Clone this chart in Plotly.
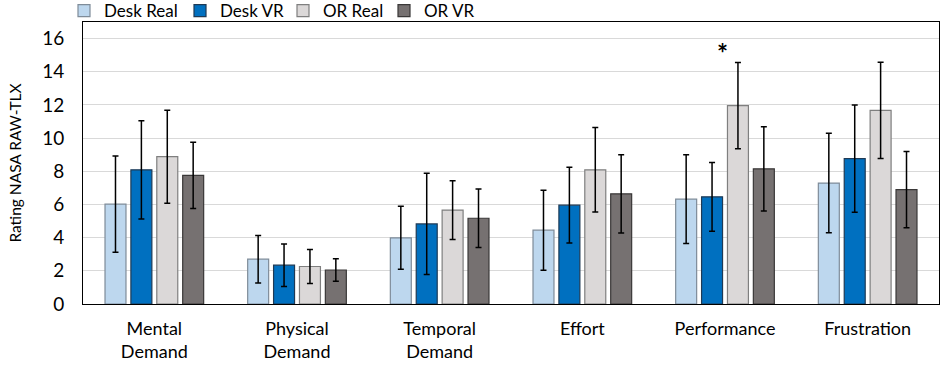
import plotly.graph_objects as go

categories = ["Mental<br>Demand", "Physical<br>Demand", "Temporal<br>Demand", "Effort", "Performance", "Frustration"]
series_names = ["Desk Real", "Desk VR", "OR Real", "OR VR"]

desk_real = [6.02, 2.70, 3.99, 4.45, 6.32, 7.29]
desk_vr = [8.09, 2.34, 4.83, 5.96, 6.46, 8.76]
or_real = [8.88, 2.26, 5.66, 8.09, 11.96, 11.67]
or_vr = [7.75, 2.05, 5.17, 6.64, 8.15, 6.90]

desk_real_sd = [2.90, 1.43, 1.90, 2.41, 2.68, 3.00]
desk_vr_sd = [2.96, 1.28, 3.05, 2.29, 2.07, 3.23]
or_real_sd = [2.80, 1.03, 1.77, 2.55, 2.60, 2.90]
or_vr_sd = [2.00, 0.68, 1.76, 2.36, 2.54, 2.30]

y_ticks = [0, 2, 4, 6, 8, 10, 12, 14, 16]

values = [desk_real, desk_vr, or_real, or_vr]
sds = [desk_real_sd, desk_vr_sd, or_real_sd, or_vr_sd]
fills = ["#BDD7EE", "#0070C0", "#DBD8D8", "#767171"]
edges = ["#7F8C99", "#1F3A55", "#7F7F7F", "#3A3838"]

FONT = "Lato, Open Sans, sans-serif"
W, H = 941, 365
legend_ids = ["legend", "legend2", "legend3", "legend4"]
legend_left_px = [64, 180, 283, 384]

fig = go.Figure()
for name, v, sd, fc, ec, lg in zip(series_names, values, sds, fills, edges, legend_ids):
    fig.add_trace(go.Bar(
        name=name, x=categories, y=v, legend=lg, showlegend=True,
        marker=dict(color=fc, line=dict(color=ec, width=1.2)),
        error_y=dict(type="data", array=sd, visible=True, color="black", thickness=1.5, width=3),
    ))

fig.add_annotation(x="Performance", y=15.15, text="<b>*</b>", showarrow=False,
                   xshift=-3, font=dict(size=26, color="black", family=FONT))

legend_layout = {}
for lg, px in zip(legend_ids, legend_left_px):
    legend_layout[lg] = dict(orientation="h", xref="container", x=px / W, xanchor="left",
                             yref="container", y=1 - 11 / H, yanchor="middle",
                             font=dict(size=17, family=FONT), itemwidth=30,
                             bgcolor="rgba(0,0,0,0)", borderwidth=0, visible=True)

fig.update_layout(
    width=W, height=H, showlegend=True,
    margin=dict(l=83, r=2, t=22, b=61, autoexpand=False),
    barmode="group", bargap=0.274, bargroupgap=0.19,
    plot_bgcolor="white", paper_bgcolor="white",
    font=dict(family=FONT, size=18, color="black"),
    xaxis=dict(showline=True, linecolor="black", linewidth=1, mirror=True, automargin=False,
               ticks="", tickfont=dict(size=18), ticklabelstandoff=8),
    yaxis=dict(range=[0, 17], tickvals=y_ticks, showgrid=True, gridcolor="#D9D9D9", gridwidth=1,
               showline=True, linecolor="black", linewidth=1, mirror=True, zeroline=False,
               automargin=False, ticks="", tickfont=dict(size=19), ticklabelstandoff=14,
               title=dict(text="Rating NASA RAW-TLX", font=dict(size=15.5), standoff=16)),
    **legend_layout,
)

fig.write_html("out.html", config={"displayModeBar": False},
               post_script="document.body.style.margin='0';")
